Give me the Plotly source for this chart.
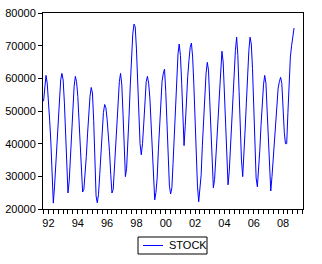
import pandas as pd
import plotly.graph_objects as go

# Monthly STOCK series (Sep 1991 .. Jun 2008)
start_month = "1991-09-01"
stock = [
    53000, 58000, 60900, 58500, 53500, 47000, 40500, 31500, 21800,
    27000, 33500, 41000, 48500, 55000, 59500, 61500,
    59500, 52500, 42500, 32000, 24900,
    28500, 35500, 43500, 51000, 57500, 60600,
    59000, 54500, 47000, 38500, 30500, 25200,
    26000, 30000, 36000, 43000, 49500, 54500, 57200,
    55500, 47000, 37500, 24000, 21900,
    24500, 30500, 38000, 44500, 49500, 52000,
    51000, 47500, 43500, 37500, 30500, 24900,
    26000, 32500, 40000, 47500, 54000, 59000, 61500,
    58000, 49000, 38000, 29900,
    32500, 39500, 48500, 58000, 66500, 73500, 76600,
    75800, 69000, 57000, 46000, 40000, 36600,
    40000, 46000, 53500, 59000, 60600,
    58500, 54000, 45000, 35000, 27000, 22800,
    25000, 29500, 38000, 46500, 54000, 59000, 61500, 62800,
    56000, 44000, 33500, 27000, 24600,
    26500, 34000, 43500, 53000, 61500, 67500, 70500,
    67000, 58500, 47500, 39400,
    45500, 54000, 60500, 65500, 69500, 70800,
    66500, 58000, 45000, 34500, 27000, 22200,
    25500, 30500, 39500, 48500, 56000, 61500, 64900,
    62500, 53000, 42500, 32000, 26500,
    29000, 34500, 41500, 48500, 55500, 63500, 68300,
    65000, 56500, 45000, 35000, 27400,
    31500, 39000, 47000, 55000, 61500, 68500, 72600,
    67000, 56000, 44000, 35000, 29900,
    35500, 44500, 52500, 61000, 68500, 72600,
    70500, 63000, 48500, 36000, 29500, 26800,
    31500, 38000, 45500, 53000, 58000, 60900,
    58500, 50000, 40000, 31000, 25500,
    30000, 35500, 41000, 46000, 51500, 57000, 59000, 60300,
    58500, 50000, 43500, 40000,
    40000, 49500, 59500, 66500, 70000, 73000, 75400,
]
dates = pd.date_range(start_month, periods=len(stock), freq="MS")

tick_dates = ["1992-01-01", "1994-01-01", "1996-01-01", "1998-01-01",
              "2000-01-01", "2002-01-01", "2004-01-01", "2006-01-01", "2008-01-01"]
tick_text = ["92", "94", "96", "98", "00", "02", "04", "06", "08"]
y_ticks = [20000, 30000, 40000, 50000, 60000, 70000, 80000]
series_name = "STOCK"
line_color = "#0000FF"

fig = go.Figure()
fig.add_trace(go.Scatter(x=dates, y=stock, mode="lines", name=series_name,
                         line=dict(color=line_color, width=1), showlegend=False))

font = dict(family="Liberation Sans, Arial, sans-serif", size=11, color="#000000")

# legend box drawn below the plot (paper coordinates)
fig.add_shape(type="rect", xref="paper", yref="paper",
              x0=0.3654, x1=0.6308, y0=-0.2296, y1=-0.1429,
              line=dict(color="#000000", width=1), fillcolor="white")
fig.add_shape(type="line", xref="paper", yref="paper",
              x0=0.3846, x1=0.4615, y0=-0.1862, y1=-0.1862,
              line=dict(color=line_color, width=1))
fig.add_annotation(text=series_name, xref="paper", yref="paper",
                   x=0.478, y=-0.1862, xanchor="left", yanchor="middle",
                   showarrow=False, font=font)

fig.update_layout(
    width=322, height=264,
    margin=dict(l=43, r=19, t=13, b=55),
    paper_bgcolor="white", plot_bgcolor="white",
    font=font,
    showlegend=False,
    xaxis=dict(range=["1991-08-18", "2009-05-12"], tickmode="array",
               tickvals=tick_dates, ticktext=tick_text,
               ticks="outside", ticklen=4, tickcolor="#000000",
               minor=dict(dtick="M4", tick0="1992-01-01", ticks="outside",
                          ticklen=4, tickcolor="#000000"),
               showline=True, linecolor="#000000", linewidth=1, mirror=True,
               showgrid=False, zeroline=False, automargin=False),
    yaxis=dict(range=[20000, 80000], tickmode="array", tickvals=y_ticks,
               ticktext=[str(v) for v in y_ticks],
               ticks="outside", ticklen=4, tickcolor="#000000",
               showline=True, linecolor="#000000", linewidth=1, mirror=True,
               showgrid=False, zeroline=False, automargin=False),
)
fig.write_html("out.html")
